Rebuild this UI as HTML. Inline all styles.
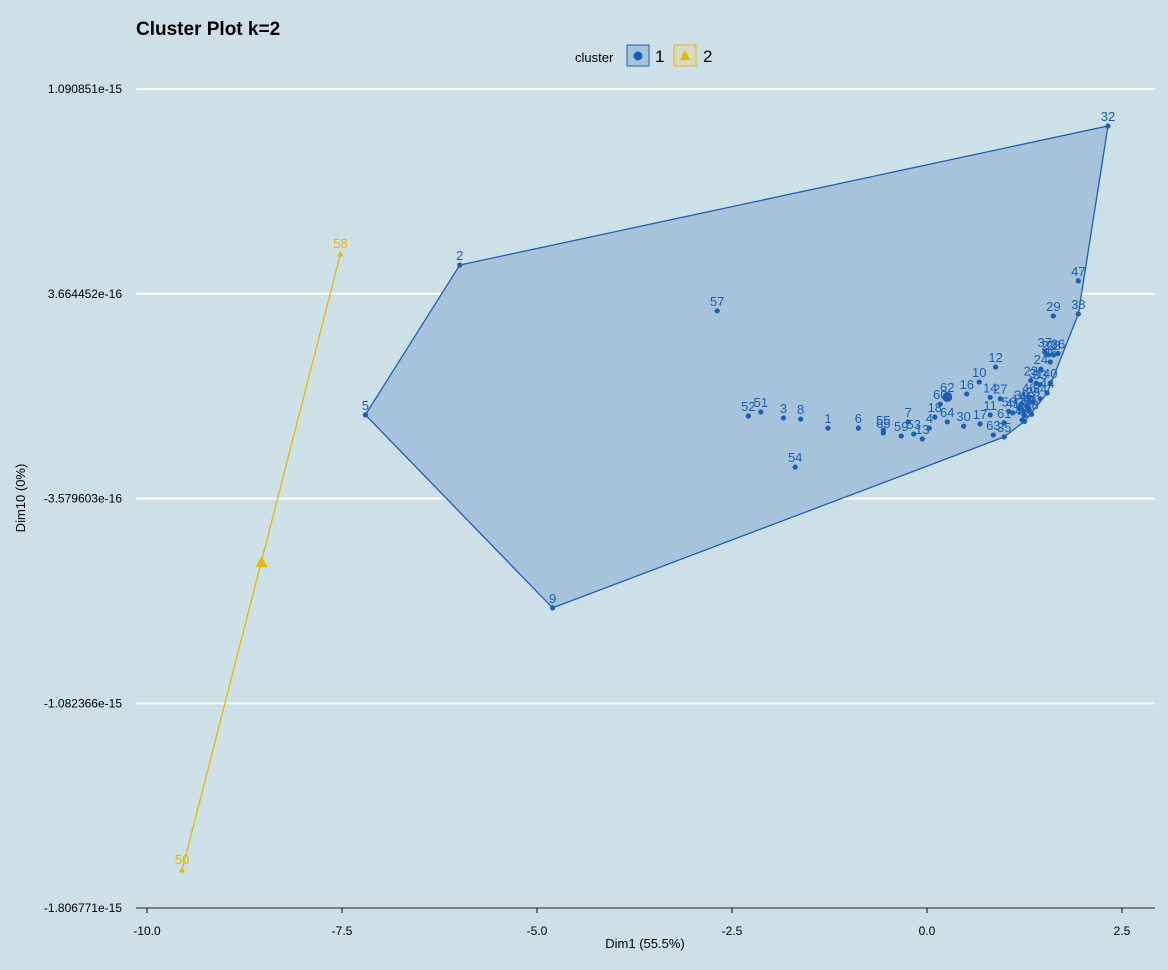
<!DOCTYPE html>
<html><head><meta charset="utf-8"><style>
body{margin:0;background:#cddfe7;font-family:"Liberation Sans",sans-serif}
svg text{font-family:"Liberation Sans",sans-serif}
</style></head><body>
<svg id="c" width="1168" height="965">
<rect width="1168" height="965" fill="#cddfe7"/>
<text x="136" y="35" font-size="19" font-weight="bold">Cluster Plot k=2</text>
<g>
<text x="575" y="62" font-size="13">cluster</text>
<rect x="627" y="45" width="22" height="21" fill="#a7c3dc" stroke="#1a5fb4"/>
<circle cx="638" cy="56" r="4.5" fill="#1a5fb4"/>
<text x="655" y="62" font-size="17">1</text>
<rect x="674" y="45" width="22" height="21" fill="#d9d9bd" stroke="#e7b800"/>
<polygon points="685,50 690,60 680,60" fill="#e7b800"/>
<text x="703" y="62" font-size="17">2</text>
</g>
<g id="grid"></g><g id="plot"></g><g id="axes"></g>
</svg>
<script>
const yTicks=[10.90851,3.664452,-3.579603,-10.82366,-18.06771];
const yTickLabels=["1.090851e-15","3.664452e-16","-3.579603e-16","-1.082366e-15","-1.806771e-15"];
const xTicks=[-10,-7.5,-5,-2.5,0,2.5];
const xTickLabels=["-10.0","-7.5","-5.0","-2.5","0.0","2.5"];
// cluster 1 points: labels, dim1, dim10 (e-16)
const c1Labels=[32,47,29,38,2,57,5,9,12,10,16,60,52,51,3,8,1,6,55,65,59,53,13,4,7,18,64,30,17,63,35,54,14,27,11,37,22,28,36,24,23,31,33,40,34,44,39,19,20,21,25,15,43,45,46,48,49,41,42,26,61,56,62];
const c1X=[2.32,1.94,1.62,1.94,-5.99,-2.69,-7.2,-4.8,0.88,0.67,0.51,0.17,-2.29,-2.13,-1.84,-1.62,-1.27,-0.88,-0.56,-0.56,-0.33,-0.17,-0.06,0.03,-0.24,0.1,0.26,0.47,0.68,0.85,0.99,-1.69,0.81,0.94,0.81,1.51,1.56,1.62,1.68,1.46,1.33,1.4,1.45,1.58,1.45,1.54,1.21,1.29,1.31,1.24,1.36,1.18,1.25,1.28,1.31,1.34,1.22,1.1,1.25,1.58,0.99,1.05,0.26];
const c1Y=[9.60,4.12,2.88,2.95,4.68,3.06,-0.62,-7.45,1.07,0.54,0.12,-0.24,-0.66,-0.52,-0.73,-0.77,-1.09,-1.09,-1.16,-1.26,-1.37,-1.30,-1.47,-1.09,-0.87,-0.70,-0.87,-1.02,-0.94,-1.33,-1.40,-2.47,0.0,-0.05,-0.62,1.6,1.5,1.5,1.55,1.0,0.6,0.5,0.45,0.5,-0.05,0.15,-0.25,-0.3,-0.45,-0.5,-0.15,-0.4,-0.65,-0.3,0.0,-0.6,-0.8,-0.55,-0.85,1.25,-0.9,-0.5,0.01];
const hull1=[32,38,44,42,35,9,5,2];
const c2Labels=[58,50];
const c2X=[-7.52,-9.55];
const c2Y=[5.07,-16.72];
const centroid2=[-8.53,-5.83];
const centroid1=[0.26,0.01];

const X=v=>927+v*78;
const Y=v=>89+(10.90851-v)*204.75/7.244;
const NS="http://www.w3.org/2000/svg";
function mk(p,t,a){const e=document.createElementNS(NS,t);for(const k in a)e.setAttribute(k,a[k]);p.appendChild(e);return e;}
const grid=document.getElementById('grid'),plot=document.getElementById('plot'),axes=document.getElementById('axes');
yTicks.forEach((v,i)=>{
 const l=mk(grid,'line',{x1:136,x2:1155,y1:Y(v),y2:Y(v),stroke:'#fff','stroke-width':2});
 
 
 const t=mk(axes,'text',{x:122,y:Y(v)+4,'font-size':12,'text-anchor':'end'});t.textContent=yTickLabels[i];
 
 
});
const xa=mk(axes,'line',{x1:136,x2:1155,y1:908,y2:908,stroke:'#000','stroke-width':1});


xTicks.forEach((v,i)=>{
 mk(axes,'line',{x1:X(v),x2:X(v),y1:908,y2:913,stroke:'#000'});
 const t=mk(axes,'text',{x:X(v),y:935,'font-size':12,'text-anchor':'middle'});t.textContent=xTickLabels[i];
 
 
});
const xt=mk(axes,'text',{x:645,y:948,'font-size':13,'text-anchor':'middle'});xt.textContent='Dim1 (55.5%)';


const yt=mk(axes,'text',{x:25,y:498,'font-size':13,'text-anchor':'middle',transform:'rotate(-90 25 498)'});yt.textContent='Dim10 (0%)';


// hull
const pts=hull1.map(l=>{const i=c1Labels.indexOf(l);return X(c1X[i])+','+Y(c1Y[i]);}).join(' ');
const hull=mk(plot,'polygon',{points:pts,fill:'#a7c3dc',stroke:'#1a5fb4','stroke-width':1.3});


const h2=mk(plot,'polyline',{points:c2X.map((x,i)=>X(x)+','+Y(c2Y[i])).join(' '),fill:'none',stroke:'#e7b800','stroke-width':1.3});


c1Labels.forEach((l,i)=>{
 const c=mk(plot,'circle',{cx:X(c1X[i]),cy:Y(c1Y[i]),r:2.6,fill:'#1a5fb4'});
 
 
 const t=mk(plot,'text',{x:X(c1X[i]),y:Y(c1Y[i])-5,'font-size':13,'text-anchor':'middle',fill:'#1a5fb4'});t.textContent=l;
 
 
});
const cc=mk(plot,'circle',{cx:X(centroid1[0]),cy:Y(centroid1[1]),r:5,fill:'#1a5fb4'});


c2Labels.forEach((l,i)=>{
 const x=X(c2X[i]),y=Y(c2Y[i]);
 const p=mk(plot,'polygon',{points:`${x},${y-3.5} ${x+3},${y+2.5} ${x-3},${y+2.5}`,fill:'#e7b800'});
 
 
 const t=mk(plot,'text',{x:x,y:y-6,'font-size':13,'text-anchor':'middle',fill:'#e7b800'});t.textContent=l;
 
 
});
const x2=X(centroid2[0]),y2=Y(centroid2[1]);
const c2c=mk(plot,'polygon',{points:`${x2},${y2-6} ${x2+6},${y2+5} ${x2-6},${y2+5}`,fill:'#e7b800'});


</script>
</body></html>
